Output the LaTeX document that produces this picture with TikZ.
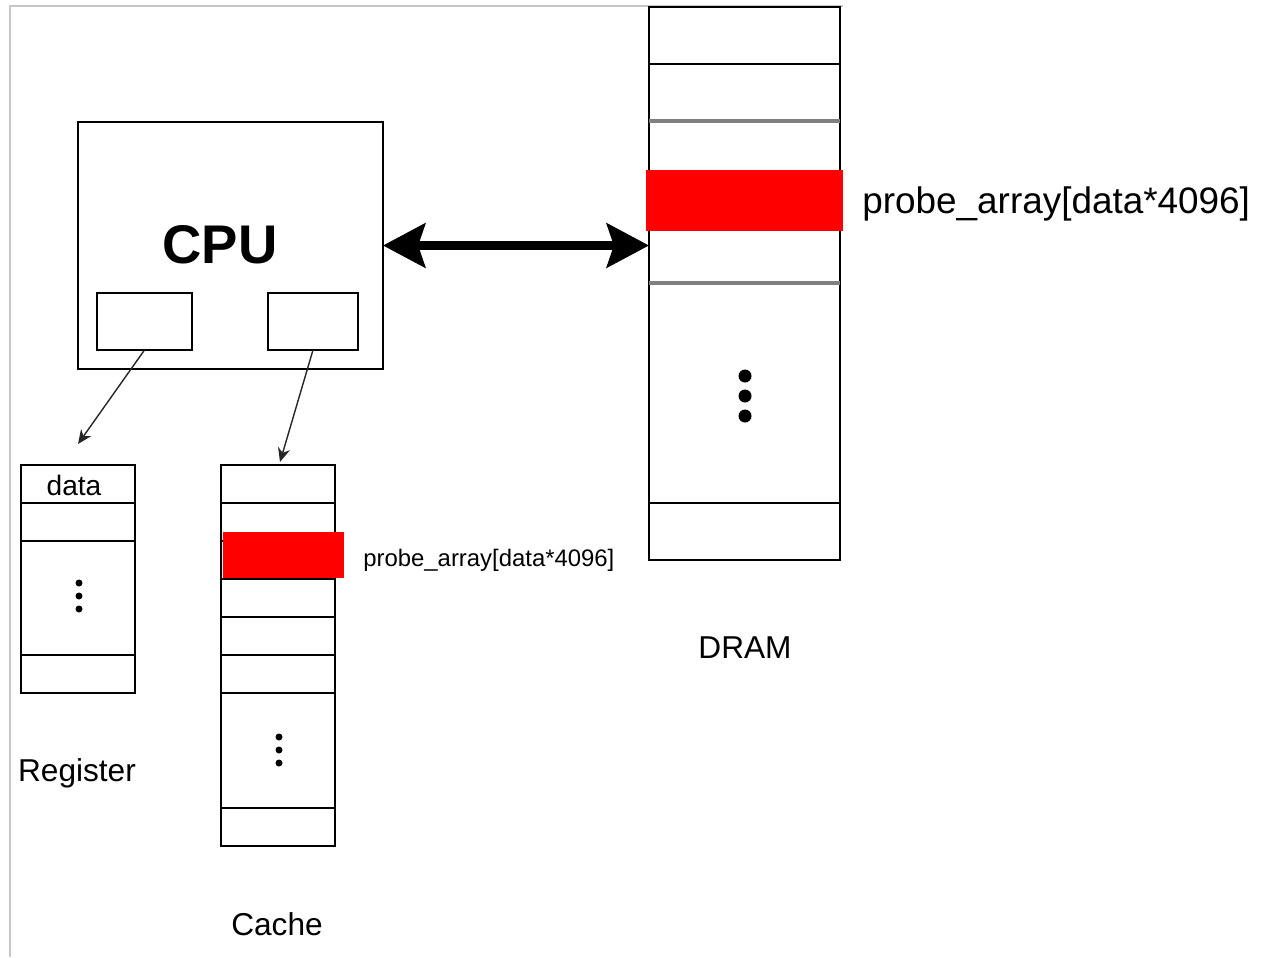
\documentclass[tikz,border=0pt]{standalone}
\usepackage{fontspec}
\setmainfont{Liberation Sans}
\usetikzlibrary{arrows.meta}

\begin{document}
\begin{tikzpicture}[x=0.02cm,y=-0.02cm,
    box/.style={draw,line width=1.1pt,inner sep=0pt,outer sep=0pt},
    hit/.style={fill=red,inner sep=0pt,outer sep=0pt},
    sep/.style={line width=1.1pt},
    gsep/.style={draw=black!50,line width=2pt},
    dot/.style={circle,fill,inner sep=0pt},
    ptr/.style={-{Stealth[length=8pt,width=7pt]},line width=0.8pt,black!85},
    bus/.style={{Stealth[length=24pt,width=25pt,inset=4pt]}-{Stealth[length=24pt,width=25pt,inset=4pt]},line width=4.8pt},
    lbl/.style={inner sep=0pt,font=\fontsize{18}{21}\selectfont}]
    \useasboundingbox (0,0) rectangle (1264,957);
    \draw[gray!45,line width=0.6pt] (843,6) -- (10,6) -- (10,957);

    % CPU with its two ports
    \node[box,minimum width=6.1cm,minimum height=4.94cm] (cpu) at (230.5,245.5) {};
    \node[font=\fontsize{31}{36}\selectfont\bfseries] (cpulabel) at (220,245) {CPU};
    \node[box,minimum width=1.9cm,minimum height=1.14cm] (regport) at (144.5,321.5) {};
    \node[box,minimum width=1.8cm,minimum height=1.14cm] (cacheport) at (313,321.5) {};

    % register file
    \node[box,minimum width=2.28cm,minimum height=4.56cm] (reg) at (78,579) {};
    \foreach \y in {503,541,655}
        \draw[sep] (reg.west |- 0,\y) -- (reg.east |- 0,\y);
    \node[font=\fontsize{16}{19}\selectfont] (regdata) at (74,485) {data};
    \foreach \y in {583,596,609}
        \node[dot,minimum size=0.14cm] at (79,\y) {};
    \node[lbl] (reglabel) at (77,773) {Register};

    % cache
    \node[box,minimum width=2.28cm,minimum height=7.62cm] (cache) at (278,655.5) {};
    \foreach \y in {503,541,579,617,655,693,808}
        \draw[sep] (cache.west |- 0,\y) -- (cache.east |- 0,\y);
    \node[hit,minimum width=2.42cm,minimum height=0.92cm] (cachehit) at (283.5,555) {};
    \foreach \y in {737,750,763}
        \node[dot,minimum size=0.14cm] at (279,\y) {};
    \node[anchor=west,inner sep=0pt,font=\fontsize{13.6}{16}\selectfont] (cacheaddr) at (363,560) {probe\_array[data*4096]};
    \node[lbl] (cachelabel) at (277,924) {Cache};

    % DRAM
    \node[box,minimum width=3.82cm,minimum height=11.06cm] (dram) at (744.5,283.5) {};
    \foreach \y in {64,503}
        \draw[sep] (dram.west |- 0,\y) -- (dram.east |- 0,\y);
    \foreach \y in {121,283}
        \draw[gsep] (dram.west |- 0,\y) -- (dram.east |- 0,\y);
    \node[hit,minimum width=3.94cm,minimum height=1.22cm] (dramhit) at (744.5,200.5) {};
    \foreach \y in {376,396,416}
        \node[dot,minimum size=0.26cm] at (745,\y) {};
    \node[anchor=west,inner sep=0pt,font=\fontsize{21}{25}\selectfont] (dramaddr) at (862,204) {probe\_array[data*4096]};
    \node[lbl] (dramlabel) at (745,648) {DRAM};

    % connections
    \coordinate (regin) at (78,444);
    \coordinate (cachein) at (280,462);
    \draw[ptr] (regport.south) -- (regin);
    \draw[ptr] (cacheport.south) -- (cachein);
    \draw[bus] (cpu.east) -- (cpu.east -| dram.west);
\end{tikzpicture}
\end{document}
